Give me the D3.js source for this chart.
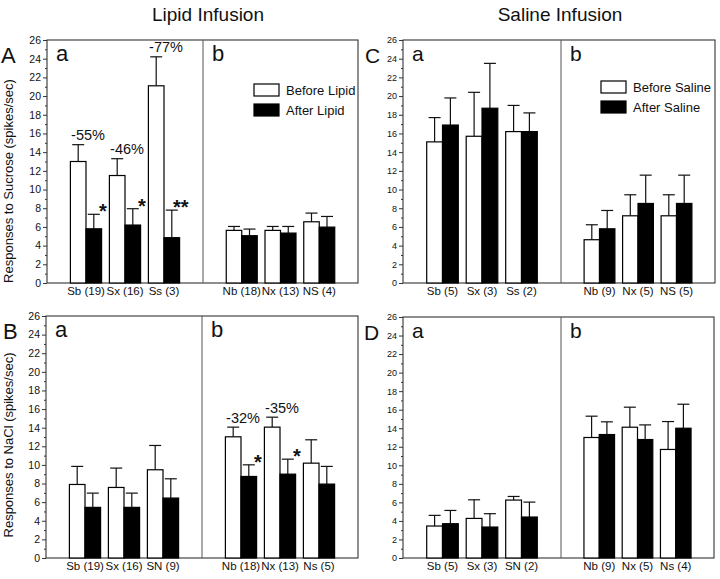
<!DOCTYPE html>
<html><head><meta charset="utf-8">
<script src="https://cdn.jsdelivr.net/npm/d3@7/dist/d3.min.js"></script>
<style>
body{margin:0;background:#fff}
svg{display:block;font-family:"Liberation Sans",Arial,Helvetica,sans-serif}
</style>
</head><body>
<svg id="chart" width="720" height="579"></svg>
<script>
// ---------- data ----------
const yTicks = d3.range(0, 27, 2);
const yMinorTicks = d3.range(1, 26, 2);
const seriesKeys = ["before", "after"];

// A: sucrose, lipid infusion
const catsAa = ["Sb (19)", "Sx (16)", "Ss (3)"];
const beforeAa = [13.0, 11.5, 21.1];
const beforeAaSem = [1.8, 1.8, 3.1];
const afterAa = [5.8, 6.2, 4.85];
const afterAaSem = [1.55, 1.75, 2.95];
const pctAa = ["-55%", "-46%", "-77%"];
const sigAa = ["*", "*", "**"];

const catsAb = ["Nb (18)", "Nx (13)", "NS (4)"];
const beforeAb = [5.63, 5.63, 6.55];
const beforeAbSem = [0.42, 0.42, 0.93];
const afterAb = [5.06, 5.34, 5.98];
const afterAbSem = [0.71, 0.71, 1.14];

// B: NaCl, lipid infusion
const catsBa = ["Sb (19)", "Sx (16)", "SN (9)"];
const beforeBa = [7.9, 7.58, 9.48];
const beforeBaSem = [1.94, 2.08, 2.61];
const afterBa = [5.44, 5.44, 6.44];
const afterBaSem = [1.53, 1.53, 2.07];

const catsBb = ["Nb (18)", "Nx (13)", "Ns (5)"];
const beforeBb = [13.02, 14.06, 10.19];
const beforeBbSem = [1.04, 1.07, 2.51];
const afterBb = [8.76, 9.01, 7.94];
const afterBbSem = [1.25, 1.61, 1.9];
const pctBb = ["-32%", "-35%", ""];
const sigBb = ["*", "*", ""];

// C: sucrose, saline infusion
const catsCa = ["Sb (5)", "Sx (3)", "Ss (2)"];
const beforeCa = [15.1, 15.7, 16.2];
const beforeCaSem = [2.6, 4.7, 2.8];
const afterCa = [16.9, 18.7, 16.2];
const afterCaSem = [2.9, 4.8, 2.0];

const catsCb = ["Nb (9)", "Nx (5)", "NS (5)"];
const beforeCb = [4.63, 7.19, 7.19];
const beforeCbSem = [1.6, 2.25, 2.25];
const afterCb = [5.8, 8.51, 8.51];
const afterCbSem = [1.96, 3.03, 3.03];

// D: NaCl, saline infusion
const catsDa = ["Sb (5)", "Sx (3)", "SN (2)"];
const beforeDa = [3.45, 4.27, 6.25];
const beforeDaSem = [1.15, 2.01, 0.39];
const afterDa = [3.7, 3.34, 4.42];
const afterDaSem = [1.43, 1.44, 1.61];

const catsDb = ["Nb (9)", "Nx (5)", "Ns (4)"];
const beforeDb = [13.0, 14.11, 11.71];
const beforeDbSem = [2.3, 2.16, 3.01];
const afterDb = [13.32, 12.78, 14.0];
const afterDbSem = [1.37, 1.58, 2.59];

// ---------- layout ----------
const svg = d3.select("#chart");
const font = '"Liberation Sans",Arial,Helvetica,sans-serif';

const panels = [
  {letter: "A", left: 47, right: 358, mid: 203, top: 40, bottom: 283, tickFont: 10.5, subFont: 22, letterFont: 22, letterX: 1,
   legend: {x: 254, y: 84, labels: ["Before Lipid", "After Lipid"]},
   ylabel: {text: "Responses to Sucrose (spikes/sec)", cy: 181},
   halves: [
    {sub: "a", cats: catsAa, before: beforeAa, beforeSem: beforeAaSem, after: afterAa, afterSem: afterAaSem, pct: pctAa, sig: sigAa},
    {sub: "b", cats: catsAb, before: beforeAb, beforeSem: beforeAbSem, after: afterAb, afterSem: afterAbSem}
   ]},
  {letter: "B", left: 46, right: 358, mid: 202, top: 316, bottom: 558, tickFont: 10.5, subFont: 22, letterFont: 22, letterX: 3,
   ylabel: {text: "Responses to NaCl (spikes/sec)", cy: 445},
   halves: [
    {sub: "a", cats: catsBa, before: beforeBa, beforeSem: beforeBaSem, after: afterBa, afterSem: afterBaSem},
    {sub: "b", cats: catsBb, before: beforeBb, beforeSem: beforeBbSem, after: afterBb, afterSem: afterBbSem, pct: pctBb, sig: sigBb}
   ]},
  {letter: "C", left: 403, right: 715, mid: 561, top: 40, bottom: 283, tickFont: 9, subFont: 21, letterFont: 21, letterX: 365,
   legend: {x: 601, y: 81, labels: ["Before Saline", "After Saline"]},
   halves: [
    {sub: "a", cats: catsCa, before: beforeCa, beforeSem: beforeCaSem, after: afterCa, afterSem: afterCaSem},
    {sub: "b", cats: catsCb, before: beforeCb, beforeSem: beforeCbSem, after: afterCb, afterSem: afterCbSem}
   ]},
  {letter: "D", left: 403, right: 714, mid: 561, top: 317, bottom: 558, tickFont: 9, subFont: 21, letterFont: 21, letterX: 364,
   halves: [
    {sub: "a", cats: catsDa, before: beforeDa, beforeSem: beforeDaSem, after: afterDa, afterSem: afterDaSem},
    {sub: "b", cats: catsDb, before: beforeDb, beforeSem: beforeDbSem, after: afterDb, afterSem: afterDbSem}
   ]}
];

// titles
svg.append("text").attr("x", 208).attr("y", 21).attr("text-anchor", "middle")
  .attr("font-size", 19).attr("fill", "#111").text("Lipid Infusion");
svg.append("text").attr("x", 560).attr("y", 21).attr("text-anchor", "middle")
  .attr("font-size", 19).attr("fill", "#111").text("Saline Infusion");

panels.forEach(p => {
  const g = svg.append("g");
  const y = d3.scaleLinear().domain([0, 26]).range([p.bottom, p.top]);

  // frame
  g.append("rect").attr("x", p.left).attr("y", p.top)
    .attr("width", p.right - p.left).attr("height", p.bottom - p.top)
    .attr("fill", "none").attr("stroke", "#333").attr("stroke-width", 1.1);
  g.append("line").attr("x1", p.mid).attr("x2", p.mid).attr("y1", p.top).attr("y2", p.bottom)
    .attr("stroke", "#555").attr("stroke-width", 1);

  // y axis
  const ya = g.append("g").attr("transform", `translate(${p.left},0)`)
    .call(d3.axisLeft(y).tickValues(yTicks).tickSize(4).tickPadding(2).tickFormat(d3.format("d")));
  ya.select(".domain").remove();
  ya.selectAll("text").attr("font-size", p.tickFont).attr("font-family", font).attr("fill", "#111");
  ya.selectAll("line").attr("stroke", "#333");
  const ym = g.append("g").attr("transform", `translate(${p.left},0)`)
    .call(d3.axisLeft(y).tickValues(yMinorTicks).tickSize(2).tickFormat(""));
  ym.select(".domain").remove();
  ym.selectAll("line").attr("stroke", "#333");

  // panel letter
  g.append("text").attr("x", p.letterX).attr("y", p.top + 23)
    .attr("font-size", p.letterFont).attr("fill", "#111").text(p.letter);

  // y label
  if (p.ylabel) {
    g.append("text").attr("transform", `translate(13,${p.ylabel.cy}) rotate(-90)`)
      .attr("text-anchor", "middle").attr("font-size", 13).attr("fill", "#111").text(p.ylabel.text);
  }

  p.halves.forEach((h, hi) => {
    const x0 = hi === 0 ? p.left : p.mid;
    const x1 = hi === 0 ? p.mid : p.right;
    const x = d3.scaleBand().domain(h.cats).range([x0, x1]).paddingInner(0.2).paddingOuter(0.6);
    const xs = d3.scaleBand().domain(seriesKeys).range([0, x.bandwidth()]);

    g.append("text").attr("x", x0 + 9).attr("y", p.top + 21)
      .attr("font-size", p.subFont).attr("fill", "#111").text(h.sub);

    const rows = h.cats.map((c, i) => ({
      cat: c, i,
      before: h.before[i], beforeSem: h.beforeSem[i],
      after: h.after[i], afterSem: h.afterSem[i]
    }));

    seriesKeys.forEach(k => {
      const cx = d => x(d.cat) + xs(k) + xs.bandwidth() / 2;
      // error bars (upper only)
      g.selectAll(null).data(rows).enter().append("line")
        .attr("x1", cx).attr("x2", cx)
        .attr("y1", d => y(d[k])).attr("y2", d => y(d[k] + d[k + "Sem"]))
        .attr("stroke", "#111").attr("stroke-width", 1.2);
      g.selectAll(null).data(rows).enter().append("line")
        .attr("x1", d => cx(d) - 6).attr("x2", d => cx(d) + 6)
        .attr("y1", d => y(d[k] + d[k + "Sem"])).attr("y2", d => y(d[k] + d[k + "Sem"]))
        .attr("stroke", "#111").attr("stroke-width", 1.2);
      // bars
      g.selectAll(null).data(rows).enter().append("rect")
        .attr("x", d => x(d.cat) + xs(k)).attr("width", xs.bandwidth())
        .attr("y", d => y(d[k])).attr("height", d => y(0) - y(d[k]))
        .attr("fill", k === "before" ? "#fff" : "#000")
        .attr("stroke", "#000").attr("stroke-width", 1.2);
    });

    // percent annotations
    if (h.pct) {
      g.selectAll(null).data(rows.filter(d => h.pct[d.i])).enter().append("text")
        .attr("x", d => x(d.cat) + x.bandwidth() / 2 + 2)
        .attr("y", d => y(d.before + d.beforeSem) - 4.5)
        .attr("text-anchor", "middle").attr("font-size", 14.5).attr("fill", "#111")
        .text(d => h.pct[d.i]);
    }
    if (h.sig) {
      g.selectAll(null).data(rows.filter(d => h.sig[d.i])).enter().append("text")
        .attr("x", d => x(d.cat) + xs("after") + xs.bandwidth() / 2 + 9)
        .attr("y", d => y(d.after + d.afterSem) + 4)
        .attr("text-anchor", "middle").attr("font-size", 20).attr("font-weight", "bold").attr("fill", "#111")
        .text(d => h.sig[d.i]);
    }

    // category labels
    const xa = g.append("g").attr("transform", `translate(0,${p.bottom})`)
      .call(d3.axisBottom(x).tickSize(0).tickPadding(4));
    xa.select(".domain").remove();
    xa.selectAll("text").attr("font-size", 11.5).attr("font-family", font).attr("fill", "#111");
  });

  // legend
  if (p.legend) {
    const L = p.legend;
    L.labels.forEach((lab, i) => {
      g.append("rect").attr("x", L.x).attr("y", L.y + i * 20).attr("width", 25).attr("height", 12)
        .attr("fill", i === 0 ? "#fff" : "#000").attr("stroke", "#000").attr("stroke-width", 1.2);
      g.append("text").attr("x", L.x + 32).attr("y", L.y + i * 20 + 11)
        .attr("font-size", 13).attr("fill", "#111").text(lab);
    });
  }
});
</script>
</body></html>
